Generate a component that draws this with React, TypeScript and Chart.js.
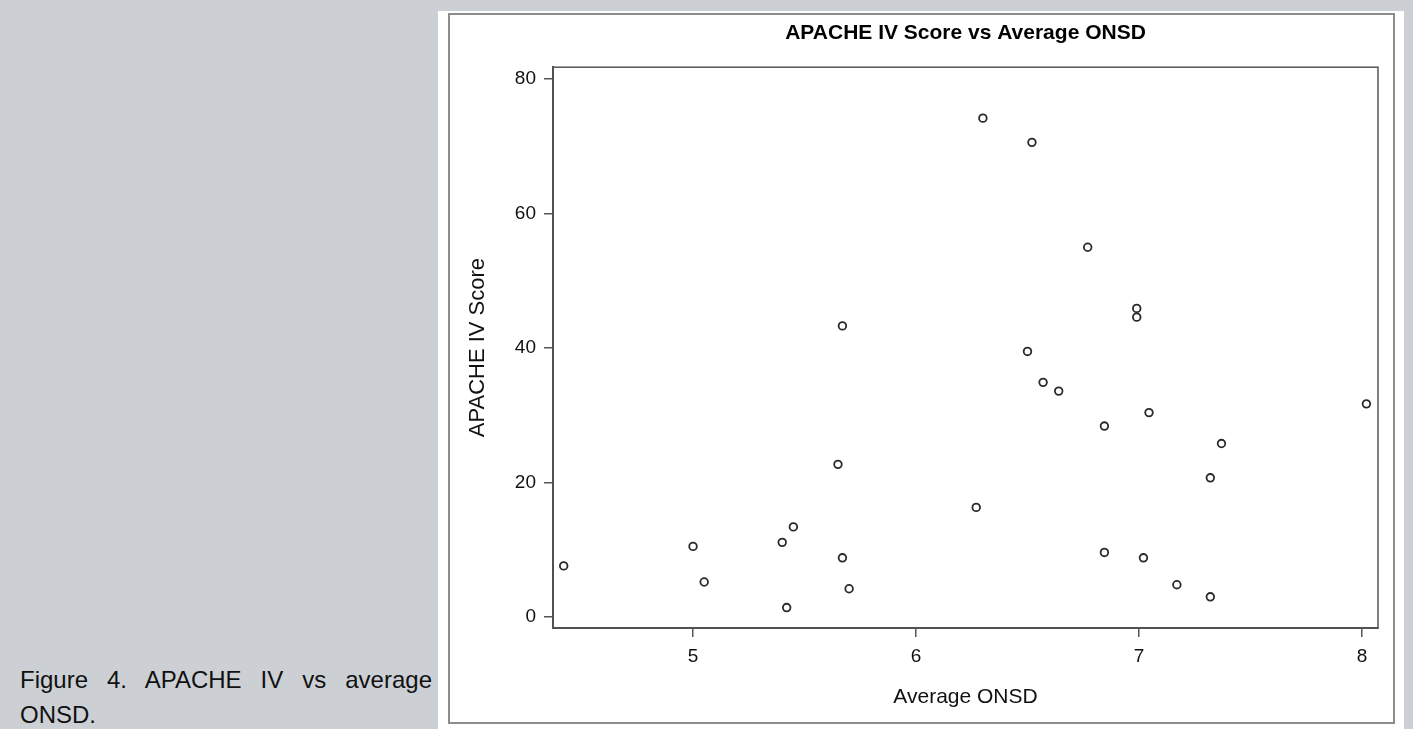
import React, { useEffect, useRef } from "react";
import { Chart, registerables } from "chart.js";

Chart.register(...registerables);

// Average ONSD (x) and APACHE IV score (y), one entry per patient
const onsd = [4.42, 5.0, 5.05, 5.4, 5.45, 5.42, 5.65, 5.67, 5.67, 5.7, 6.27, 6.3, 6.52, 6.5, 6.57, 6.64, 6.77, 6.99, 6.99, 7.045, 6.845, 7.37, 7.32, 8.02, 6.845, 7.02, 7.17, 7.32];
const apache = [7.6, 10.5, 5.2, 11.1, 13.4, 1.4, 22.7, 43.3, 8.8, 4.2, 16.3, 74.2, 70.6, 39.5, 34.9, 33.6, 55.0, 45.9, 44.6, 30.4, 28.4, 25.8, 20.7, 31.7, 9.6, 8.8, 4.8, 3.0];
const xTicks = [5, 6, 7, 8];
const yTicks = [0, 20, 40, 60, 80];
const chartTitle = "APACHE IV Score vs Average ONSD";
const xTitle = "Average ONSD";
const yTitle = "APACHE IV Score";
const caption = "Figure 4. APACHE IV vs average ONSD.";

const FONT = "'Liberation Sans', Arial, Helvetica, sans-serif";

const framePlugin = {
  id: "frame",
  beforeDatasetsDraw(chart: any) {
    const { ctx, chartArea } = chart;
    const { left, top, right, bottom } = chartArea;
    ctx.save();
    ctx.strokeStyle = "#555";
    ctx.lineWidth = 1.5;
    ctx.strokeRect(left, top, right - left, bottom - top);
    ctx.restore();
  },
};

export default function App() {
  const ref = useRef<HTMLCanvasElement | null>(null);

  useEffect(() => {
    if (!ref.current) return;
    const points = onsd.map((x, i) => ({ x, y: apache[i] }));
    const chart = new Chart(ref.current, {
      type: "scatter",
      data: {
        datasets: [
          {
            data: points,
            pointStyle: "circle",
            pointRadius: 3.8,
            pointBorderWidth: 1.8,
            pointBorderColor: "#2a2a2a",
            pointBackgroundColor: "#fff",
          },
        ],
      },
      plugins: [framePlugin],
      options: {
        responsive: false,
        animation: false,
        layout: { padding: { left: 0, right: 16, top: 0, bottom: 0 } },
        plugins: {
          legend: { display: false },
          tooltip: { enabled: false },
          title: {
            display: true,
            text: chartTitle,
            fullSize: false,
            color: "#000",
            font: { family: FONT, size: 21, weight: "bold" },
            padding: { top: 7, bottom: 21 },
          },
        },
        scales: {
          x: {
            type: "linear",
            min: 4.372,
            max: 8.072,
            afterBuildTicks: (s: any) => {
              s.ticks = xTicks.map((v) => ({ value: v }));
            },
            afterFit: (s: any) => {
              s.height = 95;
            },
            grid: {
              display: true,
              drawOnChartArea: false,
              drawTicks: true,
              tickLength: 9,
              color: "#555",
              lineWidth: 1.5,
            },
            border: { display: true, color: "#444", width: 2 },
            ticks: {
              color: "#111",
              font: { family: FONT, size: 19 },
              padding: 8,
              maxRotation: 0,
              autoSkip: false,
            },
            title: {
              display: true,
              text: xTitle,
              color: "#111",
              font: { family: FONT, size: 21 },
              padding: { top: 0, bottom: 13 },
            },
          },
          y: {
            type: "linear",
            min: -1.64,
            max: 81.78,
            afterBuildTicks: (s: any) => {
              s.ticks = yTicks.map((v) => ({ value: v }));
            },
            afterFit: (s: any) => {
              s.width = 104;
            },
            grid: {
              display: true,
              drawOnChartArea: false,
              drawTicks: true,
              tickLength: 9,
              color: "#555",
              lineWidth: 1.5,
            },
            border: { display: true, color: "#444", width: 2 },
            ticks: {
              color: "#111",
              font: { family: FONT, size: 19 },
              padding: 8,
              autoSkip: false,
            },
            title: {
              display: true,
              text: yTitle,
              color: "#111",
              font: { family: FONT, size: 22 },
              padding: { top: 16, bottom: 0 },
            },
          },
        },
      },
    } as any);
    return () => chart.destroy();
  }, []);

  return (
    <div
      style={{
        position: "fixed",
        left: 0,
        top: 0,
        width: 1413,
        height: 729,
        background: "#ccd0d4",
        overflow: "hidden",
        fontFamily: FONT,
      }}
    >
      <div
        style={{
          position: "absolute",
          left: 438,
          top: 11,
          width: 966,
          height: 718,
          background: "#fff",
        }}
      />
      <canvas
        ref={ref}
        width={945}
        height={709}
        style={{ position: "absolute", left: 449, top: 14, width: 945, height: 709, display: "block" }}
      />
      <div
        style={{
          position: "absolute",
          left: 448,
          top: 13,
          width: 947,
          height: 711,
          boxSizing: "border-box",
          border: "2px solid #8c8c8c",
          pointerEvents: "none",
        }}
      />
      <div
        style={{
          position: "absolute",
          left: 20,
          top: 662,
          width: 412,
          fontSize: 24,
          lineHeight: "35px",
          textAlign: "justify",
          color: "#111",
        }}
      >
        {caption}
      </div>
    </div>
  );
}
